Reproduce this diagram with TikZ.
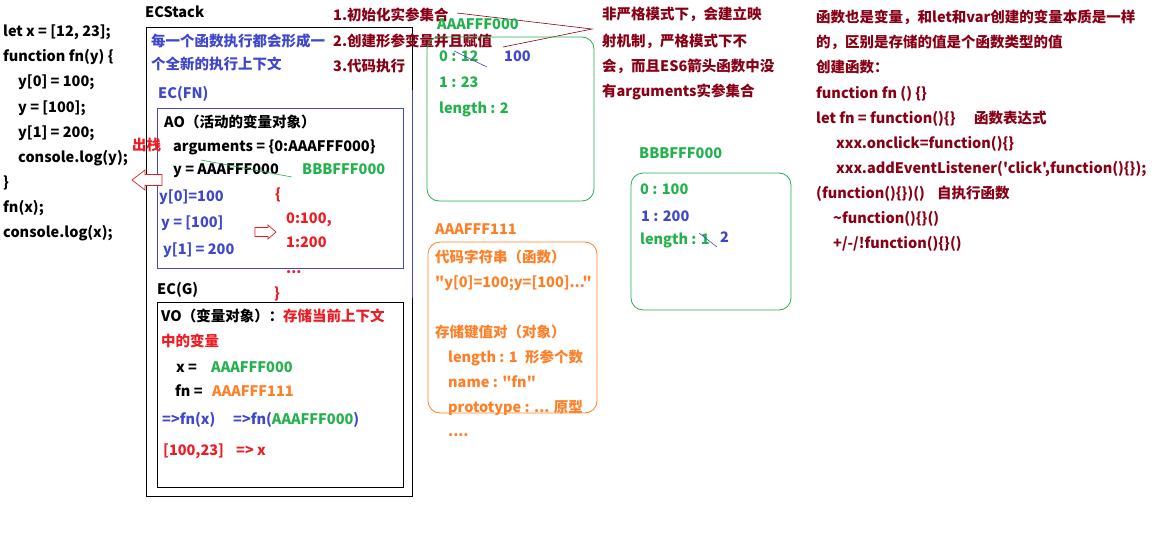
\documentclass[tikz,border=0pt]{standalone}
\usepackage{fontspec}
\setmainfont{Noto Sans CJK SC}[Ligatures=TeXOff]
\usetikzlibrary{positioning}
\definecolor{pblue}{RGB}{63,72,204}
\definecolor{pgreen}{RGB}{34,177,76}
\definecolor{porange}{RGB}{255,127,39}
\definecolor{pred}{RGB}{237,28,36}
\definecolor{pdark}{RGB}{136,0,21}

\begin{document}
\begin{tikzpicture}[x=1pt,y=-1pt,
  every node/.style={anchor=base west,inner sep=0pt,font=\fontsize{14.5}{17}\selectfont\bfseries},
  frame/.style={line width=.9pt},
  rbox/.style={rounded corners=12pt,line width=.8pt},
  hollow/.style={draw=pred,line width=.7pt,fill=white}]
\useasboundingbox (0,0) rectangle (1170,535);
% code on the left
\node (c1) at (3,37) {let x = [12, 23];};
\node (c2) at (3,62) {function fn(y) \{};
\node (c3) at (18,87) {y[0] = 100;};
\node (c4) at (18,112) {y = [100];};
\node (c5) at (18,137) {y[1] = 200;};
\node (c6) at (18,162) {console.log(y);};
\node (c7) at (3,187) {\}};
\node (c8) at (3,212) {fn(x);};
\node (c9) at (3,237) {console.log(x);};
% stack
\node (stack) at (145,18) {ECStack};
\draw[frame] (146,27) rectangle (412,496);
\draw[frame,pblue] (412,90) -- (412,298);
\node[pblue] (new1) at (151,47) {每一个函数执行都会形成一};
\node[pblue] (new2) at (151,70) {个全新的执行上下文};
\node[pblue] (ecfn) at (158,98) {EC(FN)};
\draw[frame,pblue] (157,108) rectangle (403,268);
\node (ao) at (164,127) {AO（活动的变量对象）};
\node (args) at (173,151) {arguments = \{0:AAAFFF000\}};
\node (aoy) at (173,174) {y = AAAFFF000};
\node[pgreen] (aoyv) at (302,174) {BBBFFF000};
\draw[pgreen,line width=.6pt] (201,160) -- (292,177);
\node[pblue] (s1) at (159,201) {y[0]=100};
\node[pblue] (s2) at (161,227) {y = [100]};
\node[pblue] (s3) at (163,254) {y[1] = 200};
\node[pred] (ob1) at (275,199) {\{};
\node[pred] (ob2) at (286,223) {0:100,};
\node[pred] (ob3) at (286,247) {1:200};
\node[pred] (ob4) at (286,273) {...};
\node[pred] (ob5) at (274,298) {\}};
\draw[hollow] (255,227.5) -- (268,227.5) -- (268,225) -- (276,232) -- (268,239) -- (268,236.5) -- (255,236.5) -- cycle;
\node[pred] (pop) at (132,150) {出栈};
\draw[hollow] (132,180) -- (145,170) -- (145,174.5) -- (162,174.5) -- (162,185.5) -- (145,185.5) -- (145,190) -- cycle;
\node (ecg) at (157,294) {EC(G)};
\draw[frame] (157,302) rectangle (403,487);
\node (vo) at (161,321) {VO（变量对象）：\textcolor{pred}{存储当前上下文}};
\node[pred] (vo2) at (161,346) {中的变量};
\node (vox) at (176,372) {x =};
\node[pgreen] (voxv) at (211,372) {AAAFFF000};
\node (vofn) at (175,396) {fn =};
\node[porange] (vofnv) at (212,396) {AAAFFF111};
\node[pblue] (call1) at (162,424) {=>fn(x)};
\node[pblue] (call2) at (233,424) {=>fn(\textcolor{pgreen}{AAAFFF000})};
\node[pred] (res1) at (163,455) {[100,23]};
\node[pred] (res2) at (236,455) {=> x};
% steps
\node[pdark] (step1) at (333,21) {1.初始化实参集合};
\node[pdark] (step2) at (333,47) {2.创建形参变量并且赋值};
\node[pdark] (step3) at (333,71) {3.代码执行};
\coordinate (t1) at (457,13);
\coordinate (t2) at (592,29);
\coordinate (t3) at (503,47);
\draw[pdark,line width=.6pt] (t1) -- (t2) -- (t3);
\node[pdark] (strict1) at (602,20) {非严格模式下，会建立映};
\node[pdark] (strict2) at (602,47) {射机制，严格模式下不};
\node[pdark] (strict3) at (602,72) {会，而且ES6箭头函数中没};
\node[pdark] (strict4) at (602,96) {有arguments实参集合};
% heap AAAFFF000
\node[pgreen] (ha) at (437,30) {AAAFFF000};
\draw[rbox,pgreen] (427,37) rectangle (594,201);
\node[pgreen] (ha1) at (439,62) {0 : 12};
\draw[pblue,line width=.6pt] (454,51) -- (487,67);
\node[pblue] (ha1v) at (504,62) {100};
\node[pgreen] (ha2) at (439,88) {1 : 23};
\node[pgreen] (ha3) at (439,113) {length : 2};
% heap AAAFFF111
\node[porange] (hf) at (435,234) {AAAFFF111};
\draw[rbox,porange] (428,242) rectangle (597,413);
\node[porange] (hf1) at (435,262) {代码字符串（函数）};
\node[porange] (hf2) at (435,287) {"y[0]=100;y=[100]..."};
\node[porange] (hf3) at (435,337) {存储键值对（对象）};
\node[porange] (hf4) at (448,362) {length : 1};
\node[porange] (hf4n) at (525,362) {形参个数};
\node[porange] (hf5) at (448,387) {name : "fn"};
\node[porange] (hf6) at (448,412) {prototype : ... 原型};
\node[porange] (hf7) at (448,436) {....};
% heap BBBFFF000
\node[pgreen] (hb) at (639,158) {BBBFFF000};
\draw[rbox,pgreen] (631,173) rectangle (791,310);
\node[pgreen] (hb1) at (640,194) {0 : 100};
\node[pblue] (hb2) at (641,221) {1 : 200};
\node[pgreen] (hb3) at (640,244) {length : 1};
\draw[pblue,line width=.6pt] (699,233) -- (717,247);
\node[pblue] (hb3v) at (720,242) {2};
% notes on the right
\node[pdark] (r1) at (816,23) {函数也是变量，和let和var创建的变量本质是一样};
\node[pdark] (r2) at (816,48) {的，区别是存储的值是个函数类型的值};
\node[pdark] (r3) at (816,73) {创建函数：};
\node[pdark] (r4) at (816,98) {function fn () \{\}};
\node[pdark] (r5) at (816,123) {let fn = function()\{\}};
\node[pdark] (r5n) at (974,123) {函数表达式};
\node[pdark] (r6) at (836,148) {xxx.onclick=function()\{\}};
\node[pdark] (r7) at (836,173) {xxx.addEventListener('click',function()\{\});};
\node[pdark] (r8) at (816,198) {(function()\{\})()};
\node[pdark] (r8n) at (937,198) {自执行函数};
\node[pdark] (r9) at (833,223) {\textasciitilde function()\{\}()};
\node[pdark] (r10) at (833,248) {+/-/!function()\{\}()};
\end{tikzpicture}
\end{document}
